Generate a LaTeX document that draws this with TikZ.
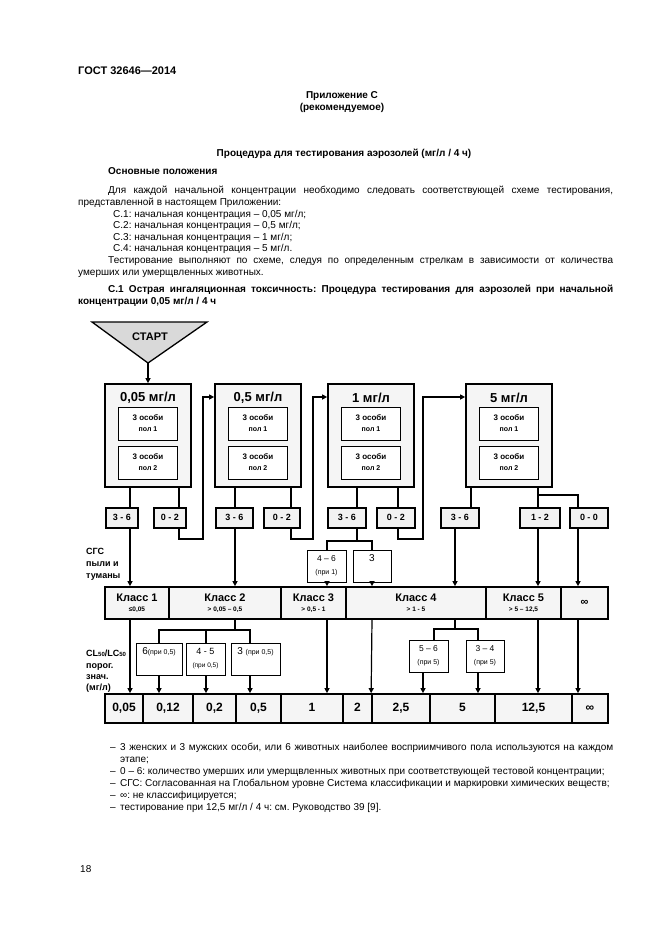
\documentclass[tikz,border=0pt]{standalone}
\usepackage{fontspec}
\setmainfont{Liberation Sans}
\usetikzlibrary{arrows.meta}
\frenchspacing
\newcommand{\fz}[2]{\fontsize{#1}{#2}\selectfont}
\begin{document}
\begin{tikzpicture}[x=1pt,y=-1pt,
  bigbox/.style={draw, line width=1.7pt, fill=gray!8, inner sep=0pt, minimum width=86pt, minimum height=103pt},
  btitle/.style={inner sep=0pt, font=\bfseries\fz{13}{14}},
  innerbox/.style={draw, line width=0.9pt, fill=white, inner sep=0pt, minimum width=59pt, minimum height=33pt, align=center, font=\bfseries\fz{8}{11}},
  resbox/.style={draw, line width=1.3pt, fill=gray!10, inner sep=0pt, minimum height=20pt, text height=6.5pt, text depth=1pt, font=\bfseries\fz{9}{10}},
  cell/.style={draw, line width=1.7pt, fill=gray!8, inner sep=0pt, minimum height=32pt, align=center},
  vcell/.style={draw, line width=1.7pt, fill=gray!8, inner sep=0pt, minimum height=29pt, text height=9pt, text depth=2.5pt, font=\bfseries\fz{12}{14}},
  subbox/.style={draw, line width=0.9pt, fill=white, inner sep=0pt, minimum height=32pt, align=center},
  conn/.style={line width=1.2pt},
  arr/.style={line width=1.2pt, -{Triangle[length=5pt,width=5pt]}},
  txt/.style={anchor=base west, inner sep=0pt, font=\fz{10}{12}},
  btxt/.style={anchor=base west, inner sep=0pt, font=\bfseries\fz{10}{12}},
  lbl/.style={anchor=base west, inner sep=0pt, font=\bfseries\fz{9}{11}}
]
\useasboundingbox (0,0) rectangle (661,935);
\fill[white] (0,0) rectangle (661,935);

% ---------- header text ----------
\node[anchor=base west, inner sep=0pt, font=\bfseries\fz{11}{13}] (gost) at (78,74) {ГОСТ 32646—2014};
\node[anchor=base, inner sep=0pt, font=\bfseries\fz{10}{12}] (app) at (342,98.5) {Приложение С};
\node[anchor=base, inner sep=0pt, font=\bfseries\fz{10}{12}] (rec) at (342,110) {(рекомендуемое)};
\node[anchor=base, inner sep=0pt, font=\bfseries\fz{10}{12}] (ttl) at (344,156.5) {Процедура для тестирования аэрозолей (мг/л / 4 ч)};
\node[btxt] (osn) at (108,174) {Основные положения};
\node[txt] (p1) at (108,193.5) {\makebox[505pt][s]{Для каждой начальной концентрации необходимо следовать соответствующей схеме тестирования,}};
\node[txt] (p2) at (78,205) {представленной в настоящем Приложении:};
\node[txt] (s1) at (113,217) {С.1: начальная концентрация – 0,05 мг/л;};
\node[txt] (s2) at (113,228.5) {С.2: начальная концентрация – 0,5 мг/л;};
\node[txt] (s3) at (113,240) {С.3: начальная концентрация – 1 мг/л;};
\node[txt] (s4) at (113,251.5) {С.4: начальная концентрация – 5 мг/л.};
\node[txt] (p3) at (108,263.5) {\makebox[505pt][s]{Тестирование выполняют по схеме, следуя по определенным стрелкам в зависимости от количества}};
\node[txt] (p4) at (78,275) {умерших или умерщвленных животных.};
\node[btxt] (c1t) at (108,292) {\makebox[505pt][s]{С.1 Острая ингаляционная токсичность: Процедура тестирования для аэрозолей при начальной}};
\node[btxt] (c1u) at (78,304) {концентрации 0,05 мг/л / 4 ч};

% ---------- helper coordinates ----------
\coordinate (xA) at (130,0);
\coordinate (xB) at (179,0);
\coordinate (xC) at (203,0);
\coordinate (xD) at (235,0);
\coordinate (xE) at (291,0);
\coordinate (xF) at (313,0);
\coordinate (xG) at (357,0);
\coordinate (xH) at (398,0);
\coordinate (xI) at (423,0);
\coordinate (xJ) at (455,0);
\coordinate (xJt) at (471,0);
\coordinate (xK) at (538,0);
\coordinate (xL) at (578,0);
\coordinate (xM) at (327,0);
\coordinate (xN) at (372,0);
\coordinate (xP1) at (159,0);
\coordinate (xP2) at (206,0);
\coordinate (xP3) at (250,0);
\coordinate (xS1) at (434,0);
\coordinate (xS1b) at (423,0);
\coordinate (xS2) at (478,0);
\coordinate (yLo) at (0,539);
\coordinate (yIn) at (0,397);
\coordinate (yBr3) at (0,541);
\coordinate (yBr4) at (0,495);
\coordinate (yBr2) at (0,630);
\coordinate (yBr5) at (0,629);

% ---------- start ----------
\draw[line width=1.3pt, fill=gray!30] (92,322) -- (207,322) -- (148,363) -- cycle;
\node[inner sep=0pt, font=\bfseries\fz{11}{12}] (start) at (150,337) {СТАРТ};
\coordinate (sttip) at (148,363);

% ---------- concentration boxes ----------
\node[bigbox] (b1) at (148,435.5) {};
\node[bigbox] (b2) at (258,435.5) {};
\node[bigbox] (b3) at (371,435.5) {};
\node[bigbox] (b4) at (509,435.5) {};
\node[btitle] (b1t) at (148,398) {0,05 мг/л};
\node[btitle] (b2t) at (258,398) {0,5 мг/л};
\node[btitle] (b3t) at (371,398) {1 мг/л};
\node[btitle] (b4t) at (509,398) {5 мг/л};
\foreach \n/\x in {1/148,2/258,3/371,4/509}{
  \node[innerbox] (b\n p) at (\x,423.5) {3 особи\\\fz{7}{8}пол 1};
  \node[innerbox] (b\n q) at (\x,462.5) {3 особи\\\fz{7}{8}пол 2};
}

% ---------- result boxes ----------
\node[resbox, minimum width=32pt] (r1a) at (122,518) {3 - 6};
\node[resbox, minimum width=32pt] (r1b) at (170,518) {0 - 2};
\node[resbox, minimum width=37pt] (r2a) at (234.5,518) {3 - 6};
\node[resbox, minimum width=36pt] (r2b) at (282,518) {0 - 2};
\node[resbox, minimum width=38pt] (r3a) at (347,518) {3 - 6};
\node[resbox, minimum width=38pt] (r3b) at (396,518) {0 - 2};
\node[resbox, minimum width=38pt] (r4a) at (460,518) {3 - 6};
\node[resbox, minimum width=40pt] (r4b) at (540,518) {1 - 2};
\node[resbox, minimum width=38pt] (r4c) at (589,518) {0 - 0};

% ---------- small boxes above class row ----------
\node[subbox, minimum width=39pt] (q1) at (326.5,566) {\fz{8.5}{10}4 – 6\\[1pt]\fz{7}{8}(при 1)};
\node[subbox, minimum width=38pt] (q2) at (372,566) {\fz{10}{11}3\\[3pt]\fz{7}{8}\phantom{(при 1)}};

% ---------- class row ----------
\node[cell, minimum width=64pt] (c1) at (137,603) {\bfseries\fz{11}{12}\strut Класс 1\\[-2pt]\bfseries\fz{6.5}{7}\strut ≤0,05};
\node[cell, minimum width=112pt] (c2) at (225,603) {\bfseries\fz{11}{12}\strut Класс 2\\[-2pt]\bfseries\fz{6.5}{7}\strut > 0,05 – 0,5};
\node[cell, minimum width=65pt] (c3) at (313.5,603) {\bfseries\fz{11}{12}\strut Класс 3\\[-2pt]\bfseries\fz{6.5}{7}\strut > 0,5 - 1};
\node[cell, minimum width=140pt] (c4) at (416,603) {\bfseries\fz{11}{12}\strut Класс 4\\[-2pt]\bfseries\fz{6.5}{7}\strut > 1 - 5};
\node[cell, minimum width=75pt] (c5) at (523.5,603) {\bfseries\fz{11}{12}\strut Класс 5\\[-2pt]\bfseries\fz{6.5}{7}\strut > 5 – 12,5};
\node[cell, minimum width=47pt] (c6) at (584.5,603) {\bfseries\fz{11}{12}∞};

% ---------- small boxes below class row ----------
\node[subbox, minimum width=46pt] (pa) at (159,659) {\fz{10}{11}6\fz{7}{8}(при 0,5)\\[5pt]\mbox{}};
\node[subbox, minimum width=39pt] (pb) at (205.5,659) {\fz{9}{10}4 - 5\\[1pt]\fz{6.5}{7}(при 0,5)};
\node[subbox, minimum width=49pt] (pc) at (255.5,659) {\fz{10}{11}3 \fz{7}{8}(при 0,5)\\[5pt]\mbox{}};
\node[subbox, minimum width=39pt] (pd) at (428.5,656) {\fz{8.5}{10}5 – 6\\[1pt]\fz{7}{8}(при 5)};
\node[subbox, minimum width=38pt] (pe) at (485,656) {\fz{8.5}{10}3 – 4\\[1pt]\fz{7}{8}(при 5)};

% ---------- values row ----------
\node[vcell, minimum width=38pt] (v1) at (124,708.5) {0,05};
\node[vcell, minimum width=50pt] (v2) at (168,708.5) {0,12};
\node[vcell, minimum width=43pt] (v3) at (214.5,708.5) {0,2};
\node[vcell, minimum width=45pt] (v4) at (258.5,708.5) {0,5};
\node[vcell, minimum width=62pt] (v5) at (312,708.5) {1};
\node[vcell, minimum width=29pt] (v6) at (357.5,708.5) {2};
\node[vcell, minimum width=58pt] (v7) at (401,708.5) {2,5};
\node[vcell, minimum width=65pt] (v8) at (462.5,708.5) {5};
\node[vcell, minimum width=77pt] (v9) at (533.5,708.5) {12,5};
\node[vcell, minimum width=36pt] (v10) at (590,708.5) {∞};

% ---------- left labels ----------
\node[lbl] (g1) at (86,554) {СГС};
\node[lbl] (g2) at (86,566) {пыли и};
\node[lbl] (g3) at (86,578) {туманы};
\node[lbl] (l1) at (86,656) {CL\raisebox{-0.5pt}{\fz{6}{6}50}/LC\raisebox{-0.5pt}{\fz{6}{6}50}};
\node[lbl] (l2) at (86,668) {порог.};
\node[lbl] (l3) at (86,679.5) {знач.};
\node[lbl] (l4) at (86,690.5) {(мг/л)};

% ---------- connectors ----------
\draw[arr] (sttip) -- (b1.north);
% column 1
\draw[conn] (b1.south -| xA) -- (r1a.north -| xA);
\draw[conn] (b1.south -| xB) -- (r1b.north -| xB);
\draw[arr] (r1a.south -| xA) -- (c1.north -| xA);
\draw[arr] (r1b.south -| xB) -- (xB |- yLo) -- (xC |- yLo) -- (xC |- yIn) -- (b2.west |- yIn);
% column 2
\draw[conn] (b2.south -| xD) -- (r2a.north -| xD);
\draw[conn] (b2.south -| xE) -- (r2b.north -| xE);
\draw[arr] (r2a.south -| xD) -- (c2.north -| xD);
\draw[arr] (r2b.south -| xE) -- (xE |- yLo) -- (xF |- yLo) -- (xF |- yIn) -- (b3.west |- yIn);
% column 3
\draw[conn] (b3.south -| xG) -- (r3a.north -| xG);
\draw[conn] (b3.south -| xH) -- (r3b.north -| xH);
\draw[arr] (r3b.south -| xH) -- (xH |- yLo) -- (xI |- yLo) -- (xI |- yIn) -- (b4.west |- yIn);
\draw[conn] (r3a.south -| xG) -- (xG |- yBr3);
\draw[conn] (q1.north -| xM) -- (xM |- yBr3) -- (xN |- yBr3) -- (q2.north -| xN);
\draw[arr] (q1.south -| xM) -- (c3.north -| xM);
\draw[arr] (q2.south -| xN) -- (c4.north -| xN);
% column 4
\draw[conn] (b4.south -| xJt) -- (r4a.north -| xJt);
\draw[arr] (r4a.south -| xJ) -- (c4.north -| xJ);
\draw[conn] (b4.south -| xK) -- (r4b.north -| xK);
\draw[conn] (xK |- yBr4) -- (xL |- yBr4) -- (r4c.north -| xL);
\draw[arr] (r4b.south -| xK) -- (c5.north -| xK);
\draw[arr] (r4c.south -| xL) -- (c6.north -| xL);
% below class row
\draw[arr] (c1.south -| xA) -- (v1.north -| xA);
\draw[conn] (c2.south -| xD) -- (xD |- yBr2);
\draw[conn] (pa.north -| xP1) -- (xP1 |- yBr2) -- (xP3 |- yBr2) -- (pc.north -| xP3);
\draw[conn] (xP2 |- yBr2) -- (pb.north -| xP2);
\draw[arr] (pa.south -| xP1) -- (v2.north -| xP1);
\draw[arr] (pb.south -| xP2) -- (v3.north -| xP2);
\draw[arr] (pc.south -| xP3) -- (v4.north -| xP3);
\draw[arr] (c3.south -| xM) -- (v5.north -| xM);
\draw[arr] (c4.south -| xN) -- (v7.north west);
\draw[conn] (c4.south -| xJ) -- (xJ |- yBr5);
\draw[conn] (pd.north -| xS1) -- (xS1 |- yBr5) -- (xS2 |- yBr5) -- (pe.north -| xS2);
\draw[arr] (pd.south -| xS1b) -- (v8.north -| xS1b);
\draw[arr] (pe.south -| xS2) -- (v8.north -| xS2);
\draw[arr] (c5.south -| xK) -- (v9.north -| xK);
\draw[arr] (c6.south -| xL) -- (v10.north -| xL);

% ---------- notes ----------
\node[txt] (d1) at (110,750) {–};
\node[txt] (n1) at (120,750) {\makebox[493pt][s]{3 женских и 3 мужских особи, или 6 животных наиболее восприимчивого пола используются на каждом}};
\node[txt] (n1b) at (120,762) {этапе;};
\node[txt] (d2) at (110,774) {–};
\node[txt] (n2) at (120,774) {0 – 6: количество умерших или умерщвленных животных при соответствующей тестовой концентрации;};
\node[txt] (d3) at (110,786) {–};
\node[txt] (n3) at (120,786) {СГС: Согласованная на Глобальном уровне Система классификации и маркировки химических веществ;};
\node[txt] (d4) at (110,798) {–};
\node[txt] (n4) at (120,798) {∞: не классифицируется;};
\node[txt] (d5) at (110,810) {–};
\node[txt] (n5) at (120,810) {тестирование при 12,5 мг/л / 4 ч: см. Руководство 39 [9].};

\node[txt] (pg) at (80,872) {18};
\end{tikzpicture}
\end{document}
